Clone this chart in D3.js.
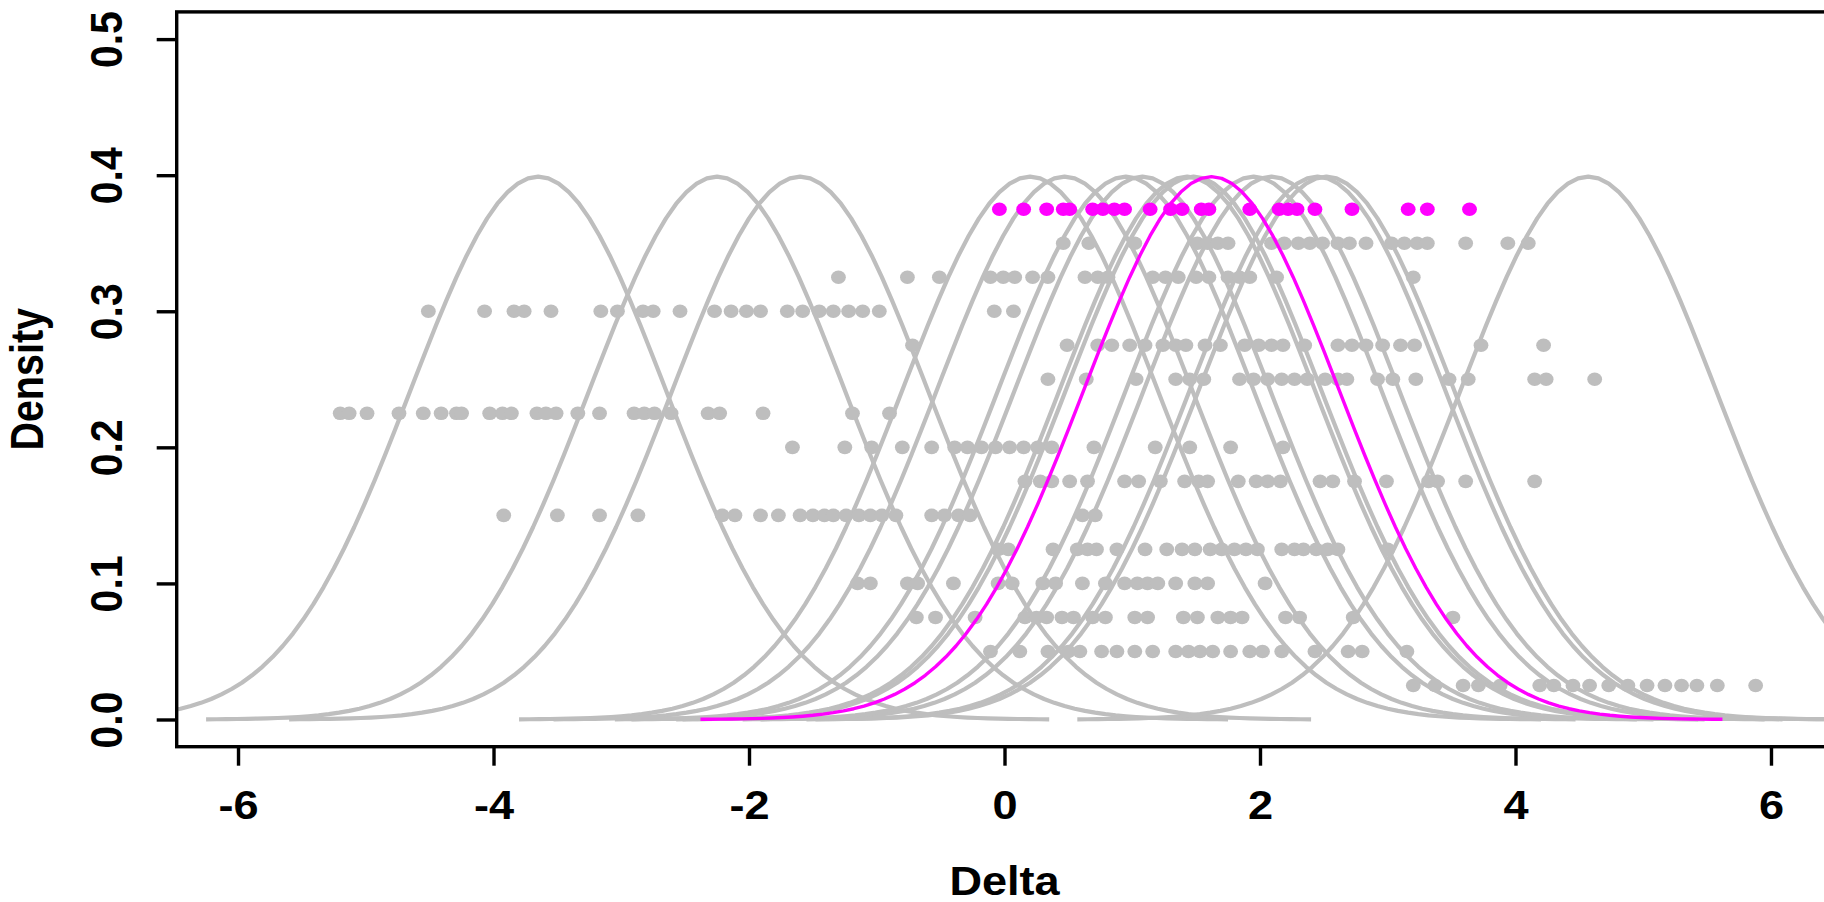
<!DOCTYPE html>
<html>
<head>
<meta charset="utf-8">
<script src="https://cdn.jsdelivr.net/npm/d3@7"></script>
<style>
  body { margin: 0; background: #fff; }
  text { font-family: "Liberation Sans", Arial, sans-serif; font-weight: bold; }
</style>
</head>
<body>
<div class="canvas"></div>
<script>
// one row of samples per curve, row heights from top to bottom
const rowHeights = [0.375, 0.35, 0.325, 0.3, 0.275, 0.25, 0.225, 0.2, 0.175, 0.15, 0.125, 0.1, 0.075, 0.05, 0.025];

// centre of each density curve (same order as rows)
const curveMeans = [1.62, 2.45, 0.95, -2.25, 2.09, 2.52, -3.65, 0.2, 1.95, -1.6, 1.48, 0.47, 1.08, 1.43, 4.57];

const row375 = [-0.04, 0.15, 0.33, 0.46, 0.51, 0.69, 0.77, 0.86, 0.94, 1.14, 1.30, 1.39, 1.54, 1.60, 1.92, 2.15, 2.22, 2.29, 2.43, 2.72, 3.16, 3.31, 3.64];
const row350 = [0.46, 0.66, 1.02, 1.51, 1.59, 1.67, 1.75, 2.09, 2.19, 2.30, 2.39, 2.49, 2.61, 2.70, 2.83, 3.03, 3.13, 3.23, 3.31, 3.61, 3.94, 4.10];
const row325 = [-1.30, -0.76, -0.51, -0.11, -0.01, 0.08, 0.22, 0.34, 0.63, 0.73, 0.81, 1.16, 1.26, 1.36, 1.50, 1.60, 1.75, 1.84, 1.92, 2.13, 3.20];
const row300 = [-4.51, -4.07, -3.84, -3.76, -3.55, -3.16, -3.03, -2.83, -2.75, -2.54, -2.27, -2.14, -2.02, -1.91, -1.70, -1.58, -1.45, -1.34, -1.22, -1.11, -0.98, -0.08, 0.07];
const row275 = [-0.72, 0.49, 0.73, 0.84, 0.98, 1.10, 1.24, 1.34, 1.42, 1.57, 1.69, 1.88, 1.99, 2.09, 2.18, 2.35, 2.61, 2.72, 2.83, 2.96, 3.10, 3.21, 3.73, 4.22];
const row250 = [0.34, 0.64, 1.03, 1.34, 1.45, 1.56, 1.84, 1.95, 2.06, 2.17, 2.27, 2.37, 2.51, 2.61, 2.68, 2.92, 3.04, 3.22, 3.48, 3.63, 4.15, 4.24, 4.62];
const row225 = [-5.20, -5.13, -4.99, -4.74, -4.55, -4.41, -4.29, -4.25, -4.03, -3.93, -3.86, -3.66, -3.59, -3.51, -3.34, -3.17, -2.90, -2.82, -2.74, -2.61, -2.32, -2.23, -1.89, -1.19, -0.90];
const row200 = [-1.66, -1.25, -1.04, -0.80, -0.57, -0.39, -0.29, -0.18, -0.07, 0.04, 0.15, 0.26, 0.37, 0.70, 1.18, 1.45, 1.77, 2.18];
const row175 = [0.16, 0.28, 0.37, 0.51, 0.65, 0.94, 1.05, 1.22, 1.41, 1.52, 1.59, 1.83, 1.97, 2.06, 2.16, 2.47, 2.57, 2.74, 2.99, 3.32, 3.39, 3.61, 4.15];
const row150 = [-3.92, -3.50, -3.17, -2.87, -2.21, -2.11, -1.91, -1.77, -1.60, -1.50, -1.41, -1.34, -1.24, -1.14, -1.05, -0.96, -0.85, -0.57, -0.47, -0.36, -0.27, 0.61, 0.71];
const row125 = [-0.05, 0.03, 0.38, 0.57, 0.65, 0.72, 0.88, 1.10, 1.27, 1.39, 1.49, 1.61, 1.70, 1.80, 1.89, 1.98, 2.17, 2.27, 2.34, 2.44, 2.53, 2.61, 3.00];
const row100 = [-1.15, -1.05, -0.76, -0.68, -0.40, -0.05, 0.06, 0.30, 0.40, 0.61, 0.79, 0.94, 1.04, 1.12, 1.20, 1.34, 1.49, 1.59, 2.04];
const row075 = [-0.69, -0.54, -0.23, 0.16, 0.25, 0.33, 0.45, 0.54, 0.69, 0.79, 1.02, 1.12, 1.40, 1.51, 1.67, 1.77, 1.86, 2.20, 2.31, 2.73, 3.51];
const row050 = [-0.11, 0.12, 0.34, 0.50, 0.59, 0.76, 0.88, 1.02, 1.16, 1.34, 1.44, 1.53, 1.63, 1.77, 1.92, 2.02, 2.17, 2.43, 2.69, 2.80, 3.15];
const row025 = [3.20, 3.37, 3.59, 3.71, 3.88, 4.19, 4.30, 4.45, 4.58, 4.73, 4.88, 5.03, 5.17, 5.30, 5.42, 5.58, 5.88];

const sampleRows = [row375, row350, row325, row300, row275, row250, row225, row200,
                    row175, row150, row125, row100, row075, row050, row025];

const xTicks = [-6, -4, -2, 0, 2, 4, 6];
const yTicks = [0, 0.1, 0.2, 0.3, 0.4, 0.5];

const highlight = 0; // first row is the magenta one

const width = 1824, height = 902;
const margin = {left: 176.7, top: 11.9};
const plotRight = 1832.3, plotBottom = 746.7;
const stretch = 1.1; // text in the picture is a little wide

const svg = d3.select('.canvas')
    .append('svg')
    .attr('width', width)
    .attr('height', height);

svg.append('rect').attr('width', width).attr('height', height).attr('fill', '#fff');

const x = d3.scaleLinear().domain([-6.48, 6.48]).range([margin.left, plotRight]);
const y = d3.scaleLinear().domain([-0.02, 0.52]).range([plotBottom, margin.top]);

svg.append('clipPath').attr('id', 'plotClip')
    .append('rect')
    .attr('x', margin.left).attr('y', margin.top)
    .attr('width', plotRight - margin.left)
    .attr('height', plotBottom - margin.top);

const plot = svg.append('g').attr('clip-path', 'url(#plotClip)');

const dnorm = v => Math.exp(-v * v / 2) / Math.sqrt(2 * Math.PI);

const line = d3.line()
    .x(d => x(d[0]))
    .y(d => y(d[1]));

const curvePoints = m => d3.range(101).map(i => {
    const v = m - 4 + i * 0.08;
    return [v, dnorm(v - m)];
});

const dots = [];
sampleRows.forEach((row, i) => row.forEach(v => dots.push({h: rowHeights[i], v: v, i: i})));

const gray = '#BEBEBE', pink = '#FF00FF';

// grey curves
plot.selectAll('path.grey')
    .data(curveMeans.filter((m, i) => i !== highlight))
    .enter()
    .append('path')
    .attr('class', 'grey')
    .attr('d', m => line(curvePoints(m)))
    .attr('fill', 'none')
    .attr('stroke', gray)
    .attr('stroke-width', 4.2)
    .attr('stroke-linejoin', 'round');

// grey samples
plot.selectAll('ellipse.grey')
    .data(dots.filter(d => d.i !== highlight))
    .enter()
    .append('ellipse')
    .attr('class', 'grey')
    .attr('cx', d => x(d.v))
    .attr('cy', d => y(d.h))
    .attr('rx', 7.4)
    .attr('ry', 6.8)
    .attr('fill', gray);

// highlighted curve + samples on top
plot.append('path')
    .attr('d', line(curvePoints(curveMeans[highlight])))
    .attr('fill', 'none')
    .attr('stroke', pink)
    .attr('stroke-width', 3.4)
    .attr('stroke-linejoin', 'round');

plot.selectAll('ellipse.pink')
    .data(dots.filter(d => d.i === highlight))
    .enter()
    .append('ellipse')
    .attr('class', 'pink')
    .attr('cx', d => x(d.v))
    .attr('cy', d => y(d.h))
    .attr('rx', 7.4)
    .attr('ry', 6.8)
    .attr('fill', pink);

// box
svg.append('rect')
    .attr('x', margin.left).attr('y', margin.top)
    .attr('width', plotRight - margin.left)
    .attr('height', plotBottom - margin.top)
    .attr('fill', 'none')
    .attr('stroke', '#000')
    .attr('stroke-width', 3.4);

// x axis
const xAxis = svg.append('g')
    .attr('transform', `translate(0, ${plotBottom})`)
    .call(d3.axisBottom(x).tickValues(xTicks).tickSize(19).tickFormat(d => d < 0 ? '-' + Math.abs(d) : d));
xAxis.select('.domain').remove();
xAxis.selectAll('line').attr('stroke', '#000').attr('stroke-width', 3.4);
xAxis.selectAll('text')
    .attr('y', null).attr('dy', null)
    .attr('transform', `translate(0, 72.5) scale(${stretch}, 1)`)
    .attr('fill', '#000')
    .style('font-size', '41px');

// y axis, labels parallel to the axis
const yAxis = svg.append('g')
    .attr('transform', `translate(${margin.left}, 0)`)
    .call(d3.axisLeft(y).tickValues(yTicks).tickSize(20).tickFormat(d3.format('.1f')));
yAxis.select('.domain').remove();
yAxis.selectAll('line').attr('stroke', '#000').attr('stroke-width', 3.4);
yAxis.selectAll('text')
    .attr('x', null).attr('dy', null)
    .attr('text-anchor', 'middle')
    .attr('transform', `translate(-55, 0) scale(${stretch}, 1) rotate(-90)`)
    .attr('fill', '#000')
    .style('font-size', '41px');

svg.append('text')
    .attr('transform', `translate(${x(0)}, 894.5) scale(${stretch}, 1)`)
    .attr('text-anchor', 'middle')
    .style('font-size', '41px')
    .text('Delta');

svg.append('text')
    .attr('transform', `translate(43, ${(margin.top + plotBottom) / 2}) scale(1.15, 1) rotate(-90)`)
    .attr('text-anchor', 'middle')
    .style('font-size', '39.5px')
    .text('Density');
</script>
</body>
</html>
